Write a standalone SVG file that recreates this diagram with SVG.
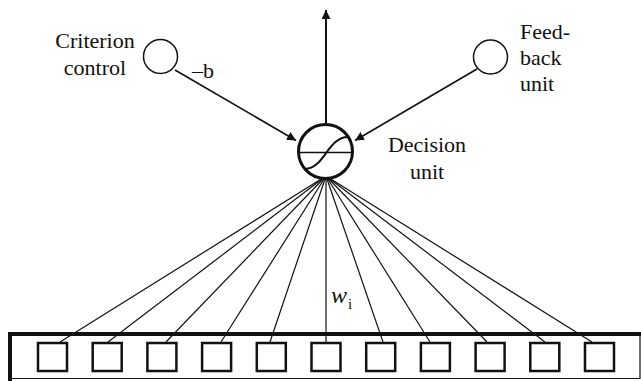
<svg xmlns="http://www.w3.org/2000/svg" width="641" height="381" viewBox="0 0 641 381">
  <defs>
    <marker id="arrow" markerUnits="userSpaceOnUse" markerWidth="10" markerHeight="9" refX="9" refY="4.5" orient="auto">
      <path d="M0,0 L9,4.5 L0,9 z" fill="#111"/>
    </marker>
  </defs>
  <rect width="641" height="381" fill="#fff"/>

  <!-- weights: fan of lines from the decision unit to the input cells -->
  <g id="connectors">
    <g stroke="#111" stroke-width="1.2">
      <line x1="326" y1="176" x2="60" y2="342"/>
      <line x1="326" y1="176" x2="108" y2="342"/>
      <line x1="326" y1="176" x2="166" y2="342"/>
      <line x1="326" y1="176" x2="221" y2="342"/>
      <line x1="326" y1="176" x2="270" y2="342"/>
      <line x1="326" y1="176" x2="326" y2="342"/>
      <line x1="326" y1="176" x2="383" y2="342"/>
      <line x1="326" y1="176" x2="430" y2="342"/>
      <line x1="326" y1="176" x2="487" y2="342"/>
      <line x1="326" y1="176" x2="545" y2="342"/>
      <line x1="326" y1="176" x2="592" y2="342"/>
    </g>
    <g stroke="#111" stroke-width="1.6" fill="none" marker-end="url(#arrow)">
      <line x1="175" y1="70" x2="296" y2="140.5"/>
      <line x1="477" y1="69" x2="355" y2="140.5"/>
      <line x1="326" y1="123" x2="326" y2="10" stroke-width="2"/>
    </g>
  </g>

  <!-- input layer -->
  <g id="input-layer">
    <path d="M10,381 V334 H641" fill="none" stroke="#111" stroke-width="4"/>
    <path d="M640,334 V378.5 H10" fill="none" stroke="#111" stroke-width="1.2"/>
    <g fill="#fff" stroke="#111" stroke-width="2.5">
      <rect x="38" y="343" width="29" height="28"/>
      <rect x="92.7" y="343" width="29" height="28"/>
      <rect x="147.4" y="343" width="29" height="28"/>
      <rect x="202.1" y="343" width="29" height="28"/>
      <rect x="256.8" y="343" width="29" height="28"/>
      <rect x="311.5" y="343" width="29" height="28"/>
      <rect x="366.2" y="343" width="29" height="28"/>
      <rect x="420.9" y="343" width="29" height="28"/>
      <rect x="475.6" y="343" width="29" height="28"/>
      <rect x="530.3" y="343" width="29" height="28"/>
      <rect x="585" y="343" width="29" height="28"/>
    </g>
  </g>

  <g font-family="Liberation Serif" font-size="22" fill="#111">
    <!-- decision unit with sigmoid -->
    <g id="decision-unit">
      <circle cx="325.5" cy="151.5" r="27" fill="#fff" stroke="#111" stroke-width="3"/>
      <line x1="298" y1="152.5" x2="353" y2="152.5" stroke="#111" stroke-width="1.5"/>
      <path d="M305,169 C324,169 328,137 348,137" fill="none" stroke="#111" stroke-width="2"/>
      <text x="427" y="152" text-anchor="middle">Decision</text>
      <text x="427" y="178.5" text-anchor="middle">unit</text>
    </g>

    <g id="criterion-control">
      <circle cx="160.5" cy="56.5" r="17" fill="#fff" stroke="#111" stroke-width="1.5"/>
      <text x="95" y="48" text-anchor="middle">Criterion</text>
      <text x="95" y="75" text-anchor="middle">control</text>
      <text x="192" y="78">–b</text>
    </g>

    <g id="feedback-unit">
      <circle cx="490.5" cy="57" r="17" fill="#fff" stroke="#111" stroke-width="1.5"/>
      <text x="520" y="38.5">Feed-</text>
      <text x="520" y="64.5">back</text>
      <text x="520" y="90.5">unit</text>
    </g>

    <g id="weight-label">
      <text x="331" y="303" font-style="italic" font-size="24">w</text>
      <text x="348" y="309" font-size="15">i</text>
    </g>
  </g>
</svg>
